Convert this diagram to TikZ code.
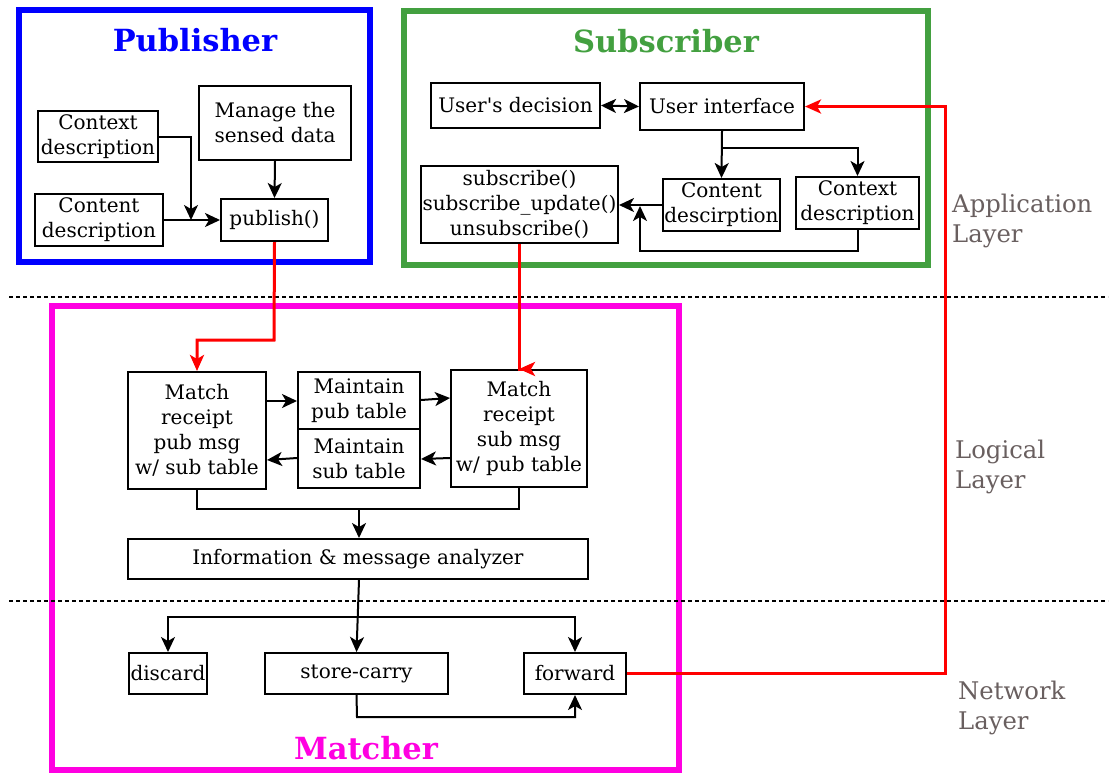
\documentclass[tikz,border=0pt]{standalone}
\usepackage{fontspec}
\setmainfont{DejaVu Serif}[Ligatures=TeXOff]
\usetikzlibrary{arrows.meta}
\definecolor{pubblue}{RGB}{0,0,255}
\definecolor{subgreen}{RGB}{67,160,64}
\definecolor{matmag}{RGB}{255,0,225}
\definecolor{layergray}{RGB}{105,95,95}
\definecolor{linkred}{RGB}{255,0,0}
\begin{document}
\begin{tikzpicture}[x=1pt,y=-1pt,
  box/.style={draw=black,line width=2pt,inner sep=0pt,align=center,font=\fontsize{20}{25}\selectfont},
  frame/.style={line width=6pt},
  ttl/.style={font=\fontsize{30.5}{33}\selectfont\bfseries},
  layer/.style={text=layergray,align=left,anchor=west,inner sep=0pt,font=\fontsize{24.3}{30}\selectfont},
  tip/.style={},
  conn/.style={draw=black,line width=2pt,-{Stealth[length=15pt,width=14pt,inset=4pt]}},
  plain/.style={draw=black,line width=2pt},
  redconn/.style={draw=linkred,line width=3pt,-{Stealth[length=16pt,width=14pt,inset=4pt]}},
  sep/.style={draw=black,line width=2pt,dash pattern=on 4pt off 3pt}]
\useasboundingbox (0,0) rectangle (1110,774);
% frames
\draw[frame,draw=pubblue] (19,10) rectangle (370,262);
\draw[frame,draw=subgreen] (404,11) rectangle (928,265);
\draw[frame,draw=matmag] (52,306) rectangle (679,770);
\node[ttl,text=pubblue] (tpub) at (195,40) {Publisher};
\node[ttl,text=subgreen] (tsub) at (666,41) {Subscriber};
\node[ttl,text=matmag] (tmat) at (366,748) {Matcher};
% layer separators
\coordinate (s1a) at (9,297); \coordinate (s1b) at (1108,297);
\coordinate (s2a) at (9,601); \coordinate (s2b) at (1108,601);
\draw[sep] (s1a) -- (s1b);
\draw[sep] (s2a) -- (s2b);
\node[layer] (lapp) at (952,221) {Application\\Layer};
\node[layer] (llog) at (955,467) {Logical\\Layer};
\node[layer] (lnet) at (958,708) {Network\\Layer};
% publisher
\node[box,minimum width=120pt,minimum height=51pt] (ctx) at (98,136.5) {Context\\description};
\node[box,minimum width=128pt,minimum height=52pt] (cnt) at (99,220) {Content\\description};
\node[box,minimum width=152pt,minimum height=74pt] (mng) at (275,123) {Manage the\\sensed data};
\node[box,minimum width=107pt,minimum height=42pt] (pubf) at (274.5,220) {publish()};
\coordinate (pj) at (191,220);
\draw[conn] (ctx.east) -- (ctx.east -| pj) -- (pj);
\draw[conn] (cnt.east) -- (pubf.west);
\draw[conn] (mng.south) -- (pubf.north);
% subscriber
\node[box,minimum width=169pt,minimum height=45pt] (ud) at (515.5,105.5) {User's decision};
\node[box,minimum width=164pt,minimum height=47pt] (ui) at (722,106.5) {User interface};
\node[box,minimum width=197pt,minimum height=77pt] (subs) at (519.5,204.5) {subscribe()\\subscribe\_update()\\unsubscribe()};
\node[box,minimum width=117pt,minimum height=52pt] (cnt2) at (721.5,205) {Content\\descirption};
\node[box,minimum width=123pt,minimum height=52pt] (ctx2) at (857.5,203) {Context\\description};
\draw[conn,{Stealth[length=15pt,width=14pt,inset=4pt]}-{Stealth[length=15pt,width=14pt,inset=4pt]}] (ud.east) -- (ui.west);
\coordinate (uib) at (722,148);
\draw[conn] (ui.south) -- (cnt2.north);
\draw[conn] (uib) -- (uib -| ctx2) -- (ctx2.north);
\draw[conn] (cnt2.west) -- (cnt2.west -| subs.east);
\coordinate (cj) at (640,251);
\coordinate (cjt) at (640,206);
\draw[conn] (ctx2.south) -- (ctx2.south |- cj) -- (cj) -- (cjt);
% matcher
\node[box,minimum width=138pt,minimum height=117pt] (m1) at (197,430.5) {Match\\receipt\\pub msg\\w/ sub table};
\node[box,minimum width=122pt,minimum height=57pt] (mp) at (359,400.5) {Maintain\\pub table};
\node[box,minimum width=122pt,minimum height=59pt] (ms) at (359,458.5) {Maintain\\sub table};
\node[box,minimum width=136pt,minimum height=117pt] (m2) at (519,428.5) {Match\\receipt\\sub msg\\w/ pub table};
\node[box,minimum width=460pt,minimum height=40pt] (an) at (358,559) {Information \& message analyzer};
\node[box,minimum width=78pt,minimum height=41pt] (dis) at (168,673.5) {discard};
\node[box,minimum width=183pt,minimum height=41pt] (sc) at (356.5,673.5) {store-carry};
\node[box,minimum width=102pt,minimum height=41pt] (fw) at (575,673.5) {forward};
\draw[conn] (m1.east |- 0,401) -- (mp.west |- 0,401);
\draw[conn] (mp.east |- 0,400) -- (m2.west |- 0,398);
\draw[conn] (m2.west |- 0,458) -- (ms.east |- 0,459);
\draw[conn] (ms.west |- 0,458) -- (m1.east |- 0,460);
\coordinate (mj) at (359,509);
\draw[plain] (m1.south) -- (m1.south |- mj) -- (mj -| m2.south) -- (m2.south);
\draw[conn] (mj) -- (an.north -| mj);
\coordinate (bj) at (168,617);
\draw[conn] (an.south -| 359,0) -- (sc.north);
\draw[conn] (bj -| fw.north) -- (bj) -- (dis.north);
\draw[conn] (bj) -- (bj -| fw.north) -- (fw.north);
\coordinate (sj) at (357,717);
\draw[conn] (sc.south) -- (sj) -- (sj -| fw.south) -- (fw.south);
% red links
\coordinate (r1) at (274,340);
\draw[redconn] (pubf.south) -- (r1) -- (r1 -| m1.north) -- (m1.north);
\draw[redconn] (subs.south) -- (subs.south |- m2.north) -- (m2.north);
\coordinate (r3) at (945,673.5);
\draw[redconn] (fw.east) -- (r3) -- (r3 |- ui.east) -- (ui.east);
\end{tikzpicture}
\end{document}
